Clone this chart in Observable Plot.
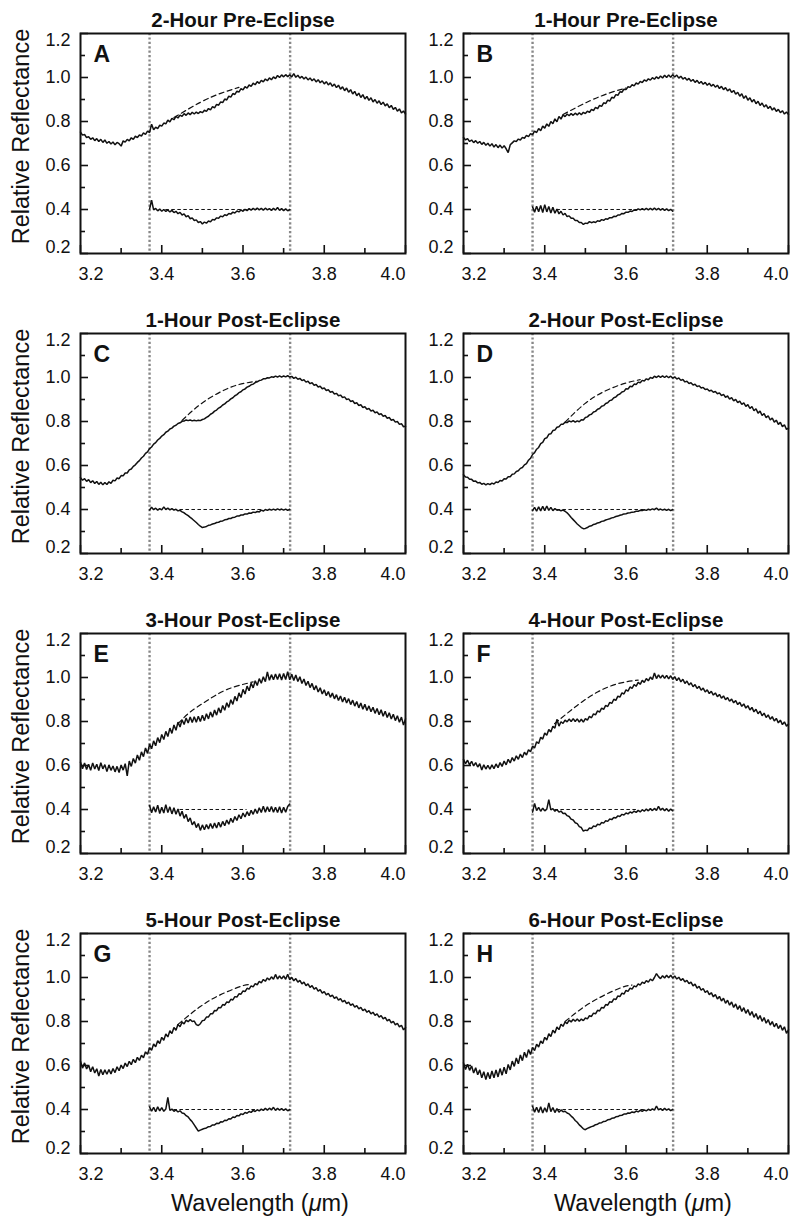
<!DOCTYPE html>
<html>
<head>
<meta charset="utf-8">
<script src="https://cdn.jsdelivr.net/npm/d3@7"></script>
<script src="https://cdn.jsdelivr.net/npm/@observablehq/plot@0.6"></script>
<style>
  html, body { margin: 0; padding: 0; background: #fff; }
  #chart svg { display: block; }
</style>
</head>
<body>
<div id="chart"></div>
<script>
// ---------- panel metadata ----------
const panelLetters = ["A", "B", "C", "D", "E", "F", "G", "H"];
const panelTitles = [
  "2-Hour Pre-Eclipse", "1-Hour Pre-Eclipse",
  "1-Hour Post-Eclipse", "2-Hour Post-Eclipse",
  "3-Hour Post-Eclipse", "4-Hour Post-Eclipse",
  "5-Hour Post-Eclipse", "6-Hour Post-Eclipse"
];
const yTitle = "Relative Reflectance";
const xTitle = "Wavelength (μm)";

// ---------- axes ----------
const xTickLabels = ["3.2", "3.4", "3.6", "3.8", "4.0"];
const xMinorTicks = [3.3, 3.5, 3.7, 3.9];
const yTickLabels = ["0.2", "0.4", "0.6", "0.8", "1.0", "1.2"];
const yMinorTicks = [0.3, 0.5, 0.7, 0.9, 1.1];
const bandWindow = [3.37, 3.716];   // dotted vertical lines (µm)
const bandReference = 0.4;          // continuum-removed reference level

// ---------- sampling ----------
const specStart = 3.2;   // first wavelength of full spectra (µm)
const bandStart = 3.37;  // first wavelength of band-depth spectra (µm)
const sampleStep = 0.005;

// ---------- full spectra, 3.200–4.000 µm ----------
const specA = [
0.752,0.738,0.741,0.727,0.731,0.719,0.726,0.713,0.722,0.709,0.719,0.705,0.716,0.701,0.709,0.698,0.707,0.694,0.705,0.699,
0.688,0.712,0.706,0.719,0.712,0.726,0.719,0.733,0.727,0.739,0.734,0.748,0.741,0.756,0.750,0.788,0.762,0.774,0.768,0.783,
0.779,0.793,0.789,0.806,0.798,0.814,0.808,0.823,0.816,0.829,0.823,0.836,0.828,0.839,0.831,0.842,0.834,0.843,0.836,0.845,
0.840,0.851,0.846,0.859,0.853,0.868,0.862,0.878,0.874,0.889,0.886,0.902,0.898,0.915,0.911,0.927,0.923,0.938,0.934,0.949,
0.944,0.958,0.952,0.966,0.960,0.974,0.967,0.981,0.973,0.987,0.980,0.993,0.985,0.998,0.990,1.003,0.995,1.009,1.000,1.012,
1.003,1.013,1.004,1.012,1.003,1.018,1.001,1.010,0.997,1.005,0.993,1.002,0.989,0.998,0.985,0.994,0.980,0.990,0.976,0.985,
0.971,0.981,0.966,0.976,0.960,0.970,0.954,0.965,0.947,0.958,0.940,0.952,0.933,0.945,0.925,0.937,0.917,0.929,0.909,0.922,
0.902,0.914,0.896,0.908,0.889,0.900,0.883,0.894,0.877,0.888,0.871,0.880,0.863,0.873,0.855,0.864,0.847,0.857,0.839,0.848,
0.834];
const specB = [
0.728,0.716,0.722,0.709,0.716,0.704,0.713,0.701,0.709,0.696,0.705,0.692,0.701,0.688,0.699,0.684,0.695,0.681,0.693,0.679,
0.690,0.676,0.659,0.694,0.703,0.712,0.709,0.720,0.716,0.728,0.724,0.737,0.731,0.745,0.740,0.756,0.750,0.768,0.758,0.779,
0.770,0.789,0.778,0.800,0.790,0.812,0.799,0.823,0.811,0.830,0.822,0.834,0.826,0.836,0.828,0.838,0.830,0.840,0.831,0.842,
0.836,0.847,0.841,0.855,0.850,0.864,0.858,0.873,0.869,0.885,0.881,0.897,0.893,0.910,0.906,0.922,0.919,0.935,0.933,0.947,
0.945,0.958,0.955,0.967,0.962,0.975,0.970,0.982,0.977,0.989,0.983,0.994,0.988,0.999,0.992,1.003,0.995,1.007,0.998,1.010,
1.000,1.012,1.001,1.013,1.002,1.011,0.997,1.006,0.993,1.000,0.988,0.996,0.983,0.991,0.978,0.987,0.973,0.982,0.969,0.978,
0.965,0.974,0.961,0.969,0.956,0.965,0.950,0.960,0.945,0.954,0.939,0.948,0.932,0.941,0.924,0.933,0.915,0.926,0.905,0.917,
0.897,0.908,0.889,0.900,0.881,0.892,0.873,0.884,0.866,0.876,0.859,0.869,0.852,0.862,0.846,0.855,0.840,0.849,0.834,0.843,
0.832];
const specC = [
0.545,0.533,0.540,0.528,0.536,0.522,0.531,0.518,0.527,0.514,0.524,0.512,0.523,0.514,0.526,0.519,0.533,0.530,0.543,0.540,
0.554,0.553,0.566,0.566,0.580,0.584,0.596,0.603,0.614,0.622,0.634,0.642,0.655,0.662,0.677,0.684,0.697,0.704,0.716,0.723,
0.734,0.740,0.751,0.756,0.766,0.770,0.779,0.783,0.791,0.794,0.801,0.802,0.807,0.804,0.807,0.803,0.806,0.803,0.806,0.804,
0.809,0.812,0.819,0.824,0.833,0.838,0.847,0.852,0.861,0.866,0.875,0.880,0.889,0.894,0.903,0.908,0.917,0.922,0.931,0.935,
0.944,0.948,0.956,0.960,0.967,0.970,0.977,0.980,0.986,0.988,0.994,0.994,0.999,0.998,1.003,1.001,1.006,1.002,1.007,1.002,
1.007,1.003,1.008,1.002,1.005,0.996,1.001,0.992,0.996,0.986,0.990,0.979,0.983,0.972,0.976,0.965,0.968,0.957,0.960,0.949,
0.952,0.941,0.944,0.933,0.936,0.925,0.928,0.917,0.920,0.909,0.912,0.900,0.903,0.891,0.894,0.882,0.885,0.873,0.876,0.864,
0.867,0.856,0.859,0.848,0.851,0.840,0.843,0.832,0.835,0.824,0.827,0.815,0.818,0.806,0.809,0.797,0.800,0.787,0.790,0.776,
0.778];
const specD = [
0.558,0.548,0.547,0.537,0.537,0.528,0.529,0.521,0.523,0.515,0.519,0.512,0.518,0.513,0.520,0.516,0.525,0.523,0.532,0.530,
0.540,0.539,0.549,0.549,0.560,0.562,0.573,0.576,0.587,0.591,0.603,0.609,0.624,0.633,0.650,0.658,0.674,0.682,0.699,0.705,
0.722,0.726,0.742,0.744,0.759,0.761,0.774,0.776,0.787,0.787,0.797,0.795,0.803,0.798,0.804,0.797,0.803,0.799,0.808,0.807,
0.818,0.821,0.830,0.833,0.843,0.846,0.856,0.859,0.869,0.872,0.882,0.885,0.895,0.898,0.908,0.911,0.921,0.925,0.934,0.937,
0.949,0.948,0.960,0.958,0.970,0.968,0.979,0.976,0.987,0.984,0.994,0.990,1.000,0.996,1.006,1.000,1.007,1.001,1.007,1.000,
1.007,0.999,1.006,0.997,1.003,0.993,0.998,0.987,0.991,0.980,0.983,0.973,0.976,0.966,0.969,0.959,0.962,0.952,0.955,0.945,
0.948,0.939,0.942,0.933,0.936,0.926,0.930,0.918,0.923,0.910,0.916,0.902,0.909,0.894,0.901,0.886,0.893,0.878,0.885,0.869,
0.877,0.859,0.868,0.849,0.858,0.838,0.847,0.827,0.836,0.817,0.826,0.807,0.816,0.797,0.806,0.787,0.796,0.776,0.785,0.764,
0.770];
const specE = [
0.615,0.585,0.611,0.582,0.606,0.578,0.612,0.584,0.606,0.577,0.613,0.585,0.604,0.572,0.603,0.578,0.598,0.571,0.596,0.568,
0.602,0.579,0.608,0.553,0.620,0.596,0.632,0.611,0.648,0.624,0.662,0.640,0.680,0.655,0.697,0.676,0.712,0.690,0.727,0.704,
0.741,0.718,0.755,0.732,0.770,0.746,0.784,0.760,0.797,0.775,0.808,0.786,0.816,0.793,0.820,0.796,0.822,0.797,0.824,0.800,
0.828,0.804,0.835,0.812,0.843,0.820,0.852,0.829,0.862,0.839,0.873,0.851,0.885,0.864,0.899,0.878,0.914,0.893,0.930,0.909,
0.946,0.925,0.961,0.940,0.974,0.953,0.985,0.964,0.995,0.974,1.003,0.981,1.025,0.987,1.013,0.990,1.016,0.991,1.017,0.989,
1.018,0.991,1.026,0.990,1.015,0.986,1.011,0.982,1.003,0.973,0.993,0.964,0.983,0.954,0.973,0.944,0.963,0.934,0.953,0.925,
0.944,0.917,0.936,0.910,0.929,0.903,0.922,0.896,0.916,0.889,0.910,0.884,0.904,0.877,0.897,0.870,0.891,0.862,0.884,0.856,
0.878,0.850,0.871,0.844,0.865,0.837,0.859,0.831,0.853,0.824,0.847,0.818,0.840,0.811,0.833,0.804,0.826,0.797,0.820,0.784,
0.812];
const specF = [
0.628,0.608,0.624,0.603,0.619,0.598,0.613,0.593,0.608,0.580,0.603,0.584,0.601,0.583,0.603,0.586,0.607,0.590,0.613,0.596,
0.620,0.603,0.628,0.612,0.636,0.620,0.644,0.628,0.652,0.636,0.660,0.648,0.672,0.662,0.688,0.680,0.708,0.700,0.728,0.720,
0.748,0.738,0.764,0.752,0.778,0.770,0.810,0.779,0.799,0.791,0.806,0.798,0.811,0.800,0.813,0.800,0.812,0.797,0.810,0.797,
0.813,0.806,0.823,0.817,0.835,0.830,0.848,0.843,0.861,0.855,0.873,0.868,0.887,0.882,0.901,0.896,0.915,0.911,0.930,0.925,
0.944,0.938,0.957,0.950,0.968,0.960,0.978,0.969,0.987,0.978,0.995,0.985,1.002,0.991,1.020,0.995,1.012,0.997,1.011,0.996,
1.010,0.994,1.008,0.991,1.004,0.986,0.999,0.980,0.992,0.973,0.984,0.966,0.976,0.958,0.968,0.950,0.960,0.942,0.952,0.934,
0.944,0.927,0.937,0.920,0.930,0.913,0.923,0.906,0.916,0.899,0.909,0.892,0.902,0.885,0.895,0.877,0.887,0.869,0.880,0.861,
0.872,0.852,0.864,0.844,0.856,0.835,0.847,0.826,0.838,0.818,0.830,0.810,0.822,0.802,0.814,0.794,0.806,0.786,0.798,0.779,
0.788];
const specG = [
0.620,0.588,0.612,0.584,0.602,0.572,0.594,0.566,0.585,0.552,0.582,0.558,0.580,0.560,0.582,0.562,0.586,0.568,0.594,0.576,
0.602,0.586,0.611,0.595,0.619,0.604,0.628,0.613,0.637,0.623,0.647,0.635,0.662,0.651,0.681,0.669,0.698,0.685,0.713,0.700,
0.728,0.715,0.743,0.730,0.758,0.745,0.773,0.760,0.787,0.776,0.797,0.789,0.806,0.799,0.809,0.800,0.802,0.786,0.782,0.790,
0.804,0.806,0.820,0.821,0.835,0.835,0.850,0.849,0.864,0.862,0.877,0.874,0.889,0.886,0.901,0.898,0.913,0.911,0.926,0.924,
0.939,0.936,0.951,0.947,0.962,0.957,0.972,0.967,0.982,0.976,0.991,0.983,0.998,0.989,1.003,0.992,1.014,0.993,1.007,0.994,
1.007,0.992,1.015,0.990,1.001,0.985,0.995,0.979,0.987,0.971,0.979,0.963,0.971,0.955,0.963,0.947,0.954,0.938,0.945,0.929,
0.936,0.921,0.928,0.913,0.920,0.905,0.912,0.897,0.904,0.889,0.896,0.881,0.888,0.873,0.880,0.865,0.872,0.857,0.864,0.849,
0.856,0.842,0.849,0.835,0.842,0.828,0.835,0.820,0.827,0.812,0.819,0.803,0.810,0.794,0.801,0.785,0.792,0.776,0.783,0.762,
0.772];
const specH = [
0.612,0.582,0.606,0.578,0.598,0.566,0.590,0.558,0.580,0.544,0.572,0.536,0.568,0.540,0.575,0.544,0.580,0.548,0.586,0.556,
0.592,0.562,0.605,0.580,0.620,0.596,0.634,0.608,0.648,0.622,0.660,0.636,0.672,0.650,0.682,0.668,0.697,0.684,0.712,0.700,
0.728,0.716,0.744,0.732,0.760,0.748,0.775,0.763,0.788,0.778,0.798,0.790,0.806,0.798,0.810,0.801,0.811,0.801,0.811,0.804,
0.816,0.812,0.826,0.823,0.838,0.835,0.851,0.848,0.864,0.861,0.877,0.874,0.890,0.887,0.903,0.900,0.916,0.913,0.929,0.925,
0.941,0.937,0.952,0.947,0.962,0.957,0.971,0.965,0.979,0.973,0.986,0.979,0.993,0.985,1.000,1.018,1.004,0.995,1.008,0.998,
1.010,0.999,1.010,0.998,1.007,0.993,1.001,0.987,0.995,0.980,0.987,0.972,0.979,0.962,0.970,0.952,0.960,0.942,0.950,0.932,
0.940,0.922,0.931,0.912,0.923,0.902,0.914,0.893,0.906,0.883,0.897,0.874,0.889,0.864,0.880,0.855,0.872,0.846,0.863,0.837,
0.854,0.828,0.845,0.819,0.836,0.810,0.827,0.801,0.818,0.792,0.809,0.784,0.800,0.776,0.792,0.768,0.784,0.760,0.776,0.746,
0.762];

// ---------- band-depth spectra, 3.370–3.715 µm ----------
const bandA = [
0.402,0.442,0.398,0.405,0.394,0.402,0.392,0.400,0.391,0.398,0.389,0.396,0.386,0.392,0.381,0.387,0.375,0.380,0.367,0.372,
0.358,0.362,0.350,0.353,0.341,0.345,0.334,0.343,0.338,0.348,0.344,0.355,0.352,0.362,0.360,0.370,0.367,0.376,0.373,0.382,
0.379,0.388,0.384,0.393,0.389,0.398,0.392,0.401,0.395,0.404,0.397,0.405,0.398,0.406,0.398,0.405,0.397,0.406,0.398,0.404,
0.396,0.405,0.397,0.409,0.396,0.404,0.395,0.403,0.394,0.400];
const bandB = [
0.412,0.388,0.415,0.390,0.418,0.386,0.422,0.389,0.414,0.384,0.410,0.383,0.402,0.380,0.392,0.375,0.382,0.368,0.371,0.360,
0.360,0.350,0.350,0.341,0.341,0.332,0.338,0.336,0.345,0.340,0.344,0.341,0.349,0.346,0.354,0.351,0.358,0.356,0.363,0.362,
0.369,0.368,0.375,0.375,0.382,0.381,0.388,0.387,0.393,0.391,0.398,0.396,0.403,0.398,0.404,0.398,0.405,0.398,0.405,0.398,
0.406,0.398,0.405,0.397,0.404,0.396,0.403,0.395,0.401,0.392];
const bandC = [
0.398,0.410,0.399,0.406,0.397,0.404,0.398,0.412,0.400,0.406,0.398,0.404,0.397,0.401,0.394,0.396,0.389,0.385,0.378,0.372,
0.364,0.357,0.349,0.341,0.332,0.324,0.318,0.320,0.323,0.328,0.330,0.334,0.336,0.341,0.342,0.347,0.348,0.353,0.354,0.359,
0.359,0.364,0.365,0.370,0.370,0.375,0.375,0.380,0.379,0.384,0.383,0.388,0.386,0.391,0.389,0.397,0.393,0.400,0.396,0.401,
0.397,0.402,0.397,0.403,0.398,0.402,0.397,0.402,0.396,0.401];
const bandD = [
0.395,0.410,0.392,0.412,0.394,0.414,0.395,0.416,0.396,0.410,0.395,0.404,0.397,0.399,0.394,0.397,0.392,0.385,0.375,0.364,
0.354,0.344,0.334,0.326,0.318,0.313,0.314,0.318,0.324,0.326,0.332,0.334,0.339,0.341,0.346,0.348,0.352,0.355,0.358,0.362,
0.364,0.368,0.370,0.374,0.376,0.380,0.381,0.384,0.385,0.388,0.389,0.392,0.392,0.396,0.395,0.399,0.396,0.401,0.398,0.403,
0.399,0.406,0.398,0.402,0.397,0.401,0.396,0.401,0.395,0.400];
const bandE = [
0.418,0.385,0.412,0.388,0.420,0.382,0.410,0.384,0.422,0.386,0.412,0.380,0.408,0.378,0.402,0.370,0.392,0.360,0.378,0.345,
0.362,0.330,0.345,0.318,0.336,0.305,0.330,0.308,0.332,0.312,0.336,0.314,0.338,0.316,0.342,0.320,0.346,0.326,0.352,0.333,
0.360,0.341,0.368,0.350,0.376,0.358,0.384,0.366,0.390,0.372,0.396,0.378,0.402,0.382,0.408,0.386,0.415,0.388,0.412,0.390,
0.414,0.388,0.410,0.386,0.412,0.384,0.410,0.388,0.414,0.425];
const bandF = [
0.388,0.428,0.395,0.410,0.392,0.406,0.394,0.402,0.445,0.398,0.404,0.392,0.400,0.388,0.393,0.382,0.383,0.372,0.368,0.356,
0.352,0.340,0.336,0.322,0.318,0.302,0.306,0.305,0.316,0.314,0.325,0.322,0.333,0.330,0.341,0.338,0.349,0.346,0.357,0.354,
0.364,0.361,0.371,0.368,0.378,0.375,0.384,0.380,0.389,0.384,0.393,0.387,0.396,0.389,0.399,0.392,0.402,0.394,0.404,0.395,
0.405,0.396,0.414,0.397,0.406,0.394,0.404,0.392,0.402,0.394];
const bandG = [
0.412,0.392,0.410,0.390,0.412,0.394,0.408,0.392,0.402,0.455,0.396,0.402,0.392,0.398,0.389,0.394,0.384,0.382,0.372,0.366,
0.354,0.344,0.330,0.316,0.302,0.306,0.310,0.314,0.316,0.322,0.323,0.330,0.330,0.337,0.336,0.344,0.343,0.351,0.350,0.358,
0.357,0.366,0.364,0.373,0.371,0.380,0.377,0.386,0.383,0.391,0.387,0.396,0.391,0.399,0.394,0.402,0.396,0.405,0.397,0.406,
0.398,0.410,0.396,0.405,0.397,0.404,0.396,0.403,0.394,0.400];
const bandH = [
0.415,0.388,0.410,0.386,0.412,0.384,0.408,0.388,0.430,0.390,0.409,0.386,0.404,0.388,0.398,0.390,0.392,0.384,0.380,0.370,
0.362,0.350,0.342,0.330,0.322,0.312,0.308,0.314,0.318,0.322,0.325,0.331,0.333,0.339,0.340,0.346,0.347,0.353,0.354,0.360,
0.361,0.367,0.368,0.373,0.374,0.379,0.379,0.384,0.383,0.389,0.386,0.393,0.389,0.396,0.392,0.398,0.394,0.401,0.396,0.403,
0.397,0.416,0.398,0.404,0.396,0.405,0.397,0.403,0.395,0.401];

// ---------- fitted continua over the 3.4 µm band [wavelength, reflectance] ----------
const contA = [[3.43,0.818],[3.495,0.887],[3.545,0.928],[3.59,0.955]];
const contB = [[3.445,0.832],[3.51,0.893],[3.56,0.930],[3.60,0.952]];
const contC = [[3.45,0.805],[3.495,0.878],[3.545,0.935],[3.59,0.968],[3.635,0.983]];
const contD = [[3.45,0.797],[3.498,0.880],[3.547,0.937],[3.597,0.973],[3.635,0.990]];
const contE = [[3.44,0.790],[3.47,0.843],[3.51,0.893],[3.56,0.945],[3.625,0.980]];
const contF = [[3.424,0.790],[3.48,0.873],[3.53,0.934],[3.58,0.972],[3.63,0.988]];
const contG = [[3.44,0.787],[3.495,0.868],[3.545,0.922],[3.595,0.960],[3.615,0.968]];
const contH = [[3.45,0.800],[3.498,0.868],[3.547,0.920],[3.59,0.955],[3.615,0.966]];

// ---------- extent of the 0.4 reference line in each band-depth plot ----------
const refSpans = [[3.41,3.635],[3.43,3.645],[3.43,3.65],[3.43,3.645],[3.445,3.61],[3.425,3.63],[3.43,3.635],[3.43,3.645]];

// ---------- build tidy tables ----------
const spectra = [specA, specB, specC, specD, specE, specF, specG, specH];
const bands = [bandA, bandB, bandC, bandD, bandE, bandF, bandG, bandH];
const continua = [contA, contB, contC, contD, contE, contF, contG, contH];

const panels = panelLetters.map((letter, k) => ({
  letter, title: panelTitles[k], col: k % 2, row: Math.floor(k / 2),
  x1: refSpans[k][0], x2: refSpans[k][1]
}));
const specRows = [], bandRows = [], contRows = [];
panels.forEach((p, k) => {
  spectra[k].forEach((v, i) => specRows.push({panel: p.letter, col: p.col, row: p.row, x: +(specStart + i * sampleStep).toFixed(3), y: v}));
  bands[k].forEach((v, i) => bandRows.push({panel: p.letter, col: p.col, row: p.row, x: +(bandStart + i * sampleStep).toFixed(3), y: v}));
  continua[k].forEach(([x, y]) => contRows.push({panel: p.letter, col: p.col, row: p.row, x, y}));
});
const yTitleRows = [0, 1, 2, 3].map(row => ({col: 0, row, label: yTitle}));
const xTitleRows = [0, 1].map(col => ({col, row: 3, label: xTitle}));

const ink = "#111";
const font = "'Liberation Sans', Arial, Helvetica, sans-serif";
const midX = xTickLabels.slice(1, -1), midY = yTickLabels.slice(1, -1);

const chart = Plot.plot({
  width: 791,
  height: 1222,
  marginLeft: 80,
  marginRight: 3,
  marginTop: 33,
  marginBottom: 69,
  style: {fontFamily: font, background: "#fff", color: ink, overflow: "visible"},
  fx: {domain: [0, 1], paddingInner: 0.1514, paddingOuter: 0, round: false, axis: null},
  fy: {domain: [0, 1, 2, 3], paddingInner: 0.26667, paddingOuter: 0, round: false, axis: null},
  x: {domain: [3.2, 4.0], axis: null},
  y: {domain: [0.2, 1.2], axis: null},
  marks: [
    // band window
    Plot.ruleX(bandWindow, {stroke: "#888", strokeWidth: 2.4, strokeDasharray: "2.2,2.2"}),
    // spectra
    Plot.line(specRows, {x: "x", y: "y", z: "panel", fx: "col", fy: "row", stroke: ink, strokeWidth: 1.5, strokeLinejoin: "miter"}),
    Plot.line(bandRows, {x: "x", y: "y", z: "panel", fx: "col", fy: "row", stroke: ink, strokeWidth: 1.5, strokeLinejoin: "miter"}),
    // continua
    Plot.line(contRows, {x: "x", y: "y", z: "panel", fx: "col", fy: "row", stroke: ink, strokeWidth: 1.2, strokeDasharray: "5,3.5", curve: "natural"}),
    Plot.ruleY(panels, {y: () => bandReference, x1: "x1", x2: "x2", fx: "col", fy: "row", stroke: ink, strokeWidth: 1, strokeDasharray: "3.5,2.5"}),
    // inward ticks
    Plot.ruleX(xTickLabels.map(Number), {insetTop: 212, stroke: ink, strokeWidth: 1.6}),
    Plot.ruleX(xMinorTicks, {insetTop: 215, stroke: ink, strokeWidth: 1.6}),
    Plot.ruleY(yTickLabels.map(Number), {insetRight: 317, stroke: ink, strokeWidth: 1.6}),
    Plot.ruleY(yMinorTicks, {insetRight: 320, stroke: ink, strokeWidth: 1.6}),
    // x tick labels
    Plot.text(midX, {x: d => +d, text: d => d, frameAnchor: "bottom", lineAnchor: "top", dy: 14, fontSize: 18, fill: ink}),
    Plot.text(xTickLabels.slice(0, 1), {x: d => +d, text: d => d, frameAnchor: "bottom", lineAnchor: "top", textAnchor: "start", dx: -2, dy: 14, fontSize: 18, fill: ink}),
    Plot.text(xTickLabels.slice(-1), {x: d => +d, text: d => d, frameAnchor: "bottom", lineAnchor: "top", textAnchor: "end", dx: 0, dy: 14, fontSize: 18, fill: ink}),
    // y tick labels
    Plot.text(midY, {y: d => +d, text: d => d, frameAnchor: "left", textAnchor: "end", dx: -10, fontSize: 18, fill: ink}),
    Plot.text(yTickLabels.slice(0, 1), {y: d => +d, text: d => d, frameAnchor: "left", textAnchor: "end", lineAnchor: "bottom", dx: -10, fontSize: 18, fill: ink}),
    Plot.text(yTickLabels.slice(-1), {y: d => +d, text: d => d, frameAnchor: "left", textAnchor: "end", lineAnchor: "top", dx: -10, fontSize: 18, fill: ink}),
    // panel titles and letters
    Plot.text(panels, {fx: "col", fy: "row", text: "title", frameAnchor: "top", lineAnchor: "bottom", dy: -7, fontSize: 20.5, fontWeight: "bold", fill: ink}),
    Plot.text(panels, {fx: "col", fy: "row", text: "letter", frameAnchor: "top-left", lineAnchor: "top", textAnchor: "start", dx: 13, dy: 12, fontSize: 23, fontWeight: "bold", fill: ink}),
    // axis titles
    Plot.text(yTitleRows, {fx: "col", fy: "row", text: "label", frameAnchor: "left", textAnchor: "middle", lineAnchor: "middle", rotate: -90, dx: -59, dy: -7, fontSize: 23.5, fill: ink}),
    Plot.text(xTitleRows, {fx: "col", fy: "row", text: "label", frameAnchor: "bottom", textAnchor: "middle", lineAnchor: "bottom", dx: 17, dy: 57, fontSize: 23.5, fill: ink}),
    // panel frames
    Plot.frame({stroke: ink, strokeWidth: 2})
  ]
});

document.getElementById("chart").appendChild(chart);

// italic µ in the wavelength label
d3.select(chart).selectAll("text").each(function () {
  if (this.textContent === xTitle) {
    d3.select(this).html('Wavelength (<tspan font-style="italic">μ</tspan>m)');
  }
});
</script>
</body>
</html>
